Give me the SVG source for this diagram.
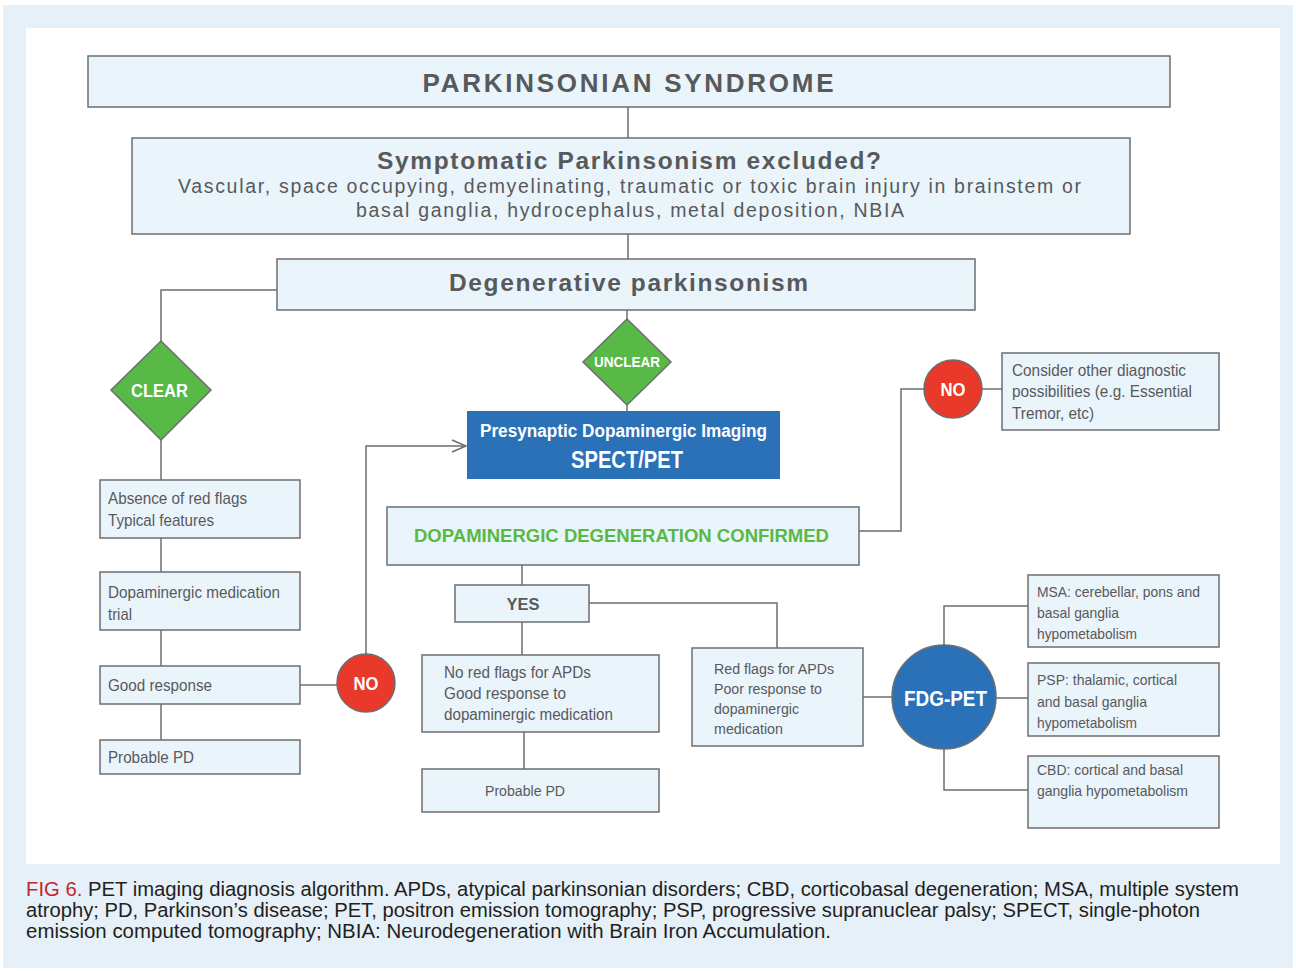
<svg xmlns="http://www.w3.org/2000/svg" width="1296" height="971" viewBox="0 0 1296 971">
<defs>
<style>
.box{fill:#eaf4fb;stroke:#6d6e71;stroke-width:1.5}
.ln{fill:none;stroke:#6d6e71;stroke-width:1.5}
.t{font-family:"Liberation Sans",Arial,sans-serif;fill:#58595b}
.hb{font-family:"Liberation Sans",Arial,sans-serif;fill:#58595b;font-weight:bold}
.wb{font-family:"Liberation Sans",Arial,sans-serif;fill:#ffffff;font-weight:bold}
.dia{fill:#58b947;stroke:#6d6e71;stroke-width:1.5}
.red{fill:#e8392a;stroke:#6d6e71;stroke-width:1.5}
.cap{font-family:"Liberation Sans",Arial,sans-serif;fill:#231f20;font-size:19.5px}
</style>
</defs>
<rect x="0" y="0" width="1296" height="971" fill="#ffffff"/>
<rect x="3" y="5" width="1290" height="963" fill="#e6f0f9"/>
<rect x="26" y="28" width="1254" height="836" fill="#ffffff"/>

<g id="connectors">
<line class="ln" x1="628" y1="107" x2="628" y2="138"/>
<line class="ln" x1="628" y1="234" x2="628" y2="259"/>
<polyline class="ln" points="277,290 161,290 161,341"/>
<line class="ln" x1="161" y1="440" x2="161" y2="480"/>
<line class="ln" x1="161" y1="538" x2="161" y2="572"/>
<line class="ln" x1="161" y1="630" x2="161" y2="666"/>
<line class="ln" x1="161" y1="704" x2="161" y2="740"/>
<line class="ln" x1="300" y1="685" x2="337" y2="685"/>
<polyline class="ln" points="366,654 366,446 465,446"/>
<polyline class="ln" points="452,440 466,446 452,452"/>
<line class="ln" x1="627" y1="310" x2="627" y2="319"/>
<line class="ln" x1="627" y1="405" x2="627" y2="411"/>
<polyline class="ln" points="859,531 901,531 901,389 924,389"/>
<line class="ln" x1="982" y1="389" x2="1002" y2="389"/>
<line class="ln" x1="522" y1="565" x2="522" y2="585"/>
<line class="ln" x1="522" y1="622" x2="522" y2="655"/>
<line class="ln" x1="524" y1="732" x2="524" y2="769"/>
<polyline class="ln" points="589,603 777,603 777,648"/>
<line class="ln" x1="863" y1="697" x2="892" y2="697"/>
<line class="ln" x1="996" y1="698" x2="1028" y2="698"/>
<polyline class="ln" points="944,645 944,606 1028,606"/>
<polyline class="ln" points="944,749 944,790 1028,790"/>
</g>

<g id="n-parkinsonian">
<rect class="box" x="88" y="56" width="1082" height="51"/>
<text class="hb" x="628" y="91.5" font-size="26" text-anchor="middle" textLength="411" lengthAdjust="spacing">PARKINSONIAN SYNDROME</text>
</g>

<g id="n-symptomatic">
<rect class="box" x="132" y="138" width="998" height="96"/>
<text class="hb" x="629" y="168.5" font-size="24.5" text-anchor="middle" textLength="504" lengthAdjust="spacing">Symptomatic Parkinsonism excluded?</text>
<text class="t" x="629.5" y="192.5" font-size="19.5" text-anchor="middle" textLength="903" lengthAdjust="spacing">Vascular, space occupying, demyelinating, traumatic or toxic brain injury in brainstem or</text>
<text class="t" x="630" y="216.5" font-size="19.5" text-anchor="middle" textLength="548" lengthAdjust="spacing">basal ganglia, hydrocephalus, metal deposition, NBIA</text>
</g>

<g id="n-degenerative">
<rect class="box" x="277" y="259" width="698" height="51"/>
<text class="hb" x="628.5" y="290.5" font-size="24.5" text-anchor="middle" textLength="359" lengthAdjust="spacing">Degenerative parkinsonism</text>
</g>

<g id="n-clear">
<polygon class="dia" points="161,341 211,390 161,440 111,390"/>
<text class="wb" x="159.5" y="397" font-size="18" text-anchor="middle" textLength="57" lengthAdjust="spacingAndGlyphs">CLEAR</text>
</g>

<g id="n-absence">
<rect class="box" x="100" y="480" width="200" height="58"/>
<text class="t" x="108" y="504" font-size="17" textLength="139" lengthAdjust="spacingAndGlyphs">Absence of red flags</text>
<text class="t" x="108" y="525.5" font-size="17" textLength="106" lengthAdjust="spacingAndGlyphs">Typical features</text>
</g>

<g id="n-trial">
<rect class="box" x="100" y="572" width="200" height="58"/>
<text class="t" x="108" y="598" font-size="17" textLength="172" lengthAdjust="spacingAndGlyphs">Dopaminergic medication</text>
<text class="t" x="108" y="619.5" font-size="17" textLength="24" lengthAdjust="spacingAndGlyphs">trial</text>
</g>

<g id="n-good">
<rect class="box" x="100" y="666" width="200" height="38"/>
<text class="t" x="108" y="690.5" font-size="17" textLength="104" lengthAdjust="spacingAndGlyphs">Good response</text>
</g>

<g id="n-probable-left">
<rect class="box" x="100" y="740" width="200" height="34"/>
<text class="t" x="108" y="763" font-size="17" textLength="86" lengthAdjust="spacingAndGlyphs">Probable PD</text>
</g>

<g id="n-no-left">
<circle class="red" cx="366" cy="683" r="29"/>
<text class="wb" x="366" y="689.5" font-size="18.5" text-anchor="middle" textLength="25" lengthAdjust="spacingAndGlyphs">NO</text>
</g>

<g id="n-unclear">
<polygon class="dia" points="627,319 671,362 627,405 583,362"/>
<text class="wb" x="627" y="366.5" font-size="14.5" text-anchor="middle" textLength="66" lengthAdjust="spacingAndGlyphs">UNCLEAR</text>
</g>

<g id="n-spect">
<rect x="467" y="411" width="313" height="68" fill="#2a71b8"/>
<text class="wb" x="623.5" y="437" font-size="17.5" text-anchor="middle" textLength="287" lengthAdjust="spacingAndGlyphs">Presynaptic Dopaminergic Imaging</text>
<text class="wb" x="627" y="468" font-size="23" text-anchor="middle" textLength="112" lengthAdjust="spacingAndGlyphs">SPECT/PET</text>
</g>

<g id="n-confirmed">
<rect class="box" x="387" y="507" width="472" height="58"/>
<text x="621.5" y="541.5" font-size="18.5" text-anchor="middle" font-weight="bold" fill="#58b947" font-family="'Liberation Sans',Arial,sans-serif" textLength="415" lengthAdjust="spacingAndGlyphs">DOPAMINERGIC DEGENERATION CONFIRMED</text>
</g>

<g id="n-no-right">
<circle class="red" cx="953" cy="389" r="29"/>
<text class="wb" x="953" y="395.5" font-size="18.5" text-anchor="middle" textLength="25" lengthAdjust="spacingAndGlyphs">NO</text>
</g>

<g id="n-consider">
<rect class="box" x="1002" y="353" width="217" height="77"/>
<text class="t" x="1012" y="376" font-size="16.5" textLength="174" lengthAdjust="spacingAndGlyphs">Consider other diagnostic</text>
<text class="t" x="1012" y="397" font-size="16.5" textLength="180" lengthAdjust="spacingAndGlyphs">possibilities (e.g. Essential</text>
<text class="t" x="1012" y="419" font-size="16.5" textLength="82" lengthAdjust="spacingAndGlyphs">Tremor, etc)</text>
</g>

<g id="n-yes">
<rect class="box" x="455" y="585" width="134" height="37"/>
<text class="hb" x="523" y="610" font-size="17" text-anchor="middle" textLength="33" lengthAdjust="spacingAndGlyphs">YES</text>
</g>

<g id="n-nored">
<rect class="box" x="422" y="655" width="237" height="77"/>
<text class="t" x="444" y="678" font-size="16" textLength="147" lengthAdjust="spacingAndGlyphs">No red flags for APDs</text>
<text class="t" x="444" y="699" font-size="16" textLength="122" lengthAdjust="spacingAndGlyphs">Good response to</text>
<text class="t" x="444" y="720" font-size="16" textLength="169" lengthAdjust="spacingAndGlyphs">dopaminergic medication</text>
</g>

<g id="n-probable-mid">
<rect class="box" x="422" y="769" width="237" height="43"/>
<text class="t" x="525" y="795.5" font-size="15.5" text-anchor="middle" textLength="80" lengthAdjust="spacingAndGlyphs">Probable PD</text>
</g>

<g id="n-redflags">
<rect class="box" x="692" y="648" width="171" height="98"/>
<text class="t" x="714" y="673.5" font-size="15.5" textLength="120" lengthAdjust="spacingAndGlyphs">Red flags for APDs</text>
<text class="t" x="714" y="693.5" font-size="15.5" textLength="108" lengthAdjust="spacingAndGlyphs">Poor response to</text>
<text class="t" x="714" y="713.5" font-size="15.5" textLength="85" lengthAdjust="spacingAndGlyphs">dopaminergic</text>
<text class="t" x="714" y="733.5" font-size="15.5" textLength="69" lengthAdjust="spacingAndGlyphs">medication</text>
</g>

<g id="n-fdg">
<circle cx="944" cy="697" r="52" fill="#2a71b8" stroke="#6d6e71" stroke-width="1.5"/>
<text class="wb" x="945.5" y="705.5" font-size="22" text-anchor="middle" textLength="83" lengthAdjust="spacingAndGlyphs">FDG-PET</text>
</g>

<g id="n-msa">
<rect class="box" x="1028" y="575" width="191" height="72"/>
<text class="t" x="1037" y="597" font-size="15" textLength="163" lengthAdjust="spacingAndGlyphs">MSA: cerebellar, pons and</text>
<text class="t" x="1037" y="618" font-size="15" textLength="82" lengthAdjust="spacingAndGlyphs">basal ganglia</text>
<text class="t" x="1037" y="638.5" font-size="15" textLength="100" lengthAdjust="spacingAndGlyphs">hypometabolism</text>
</g>

<g id="n-psp">
<rect class="box" x="1028" y="663" width="191" height="73"/>
<text class="t" x="1037" y="685" font-size="15" textLength="140" lengthAdjust="spacingAndGlyphs">PSP: thalamic, cortical</text>
<text class="t" x="1037" y="707" font-size="15" textLength="110" lengthAdjust="spacingAndGlyphs">and basal ganglia</text>
<text class="t" x="1037" y="727.5" font-size="15" textLength="100" lengthAdjust="spacingAndGlyphs">hypometabolism</text>
</g>

<g id="n-cbd">
<rect class="box" x="1028" y="756" width="191" height="72"/>
<text class="t" x="1037" y="775" font-size="15" textLength="146" lengthAdjust="spacingAndGlyphs">CBD: cortical and basal</text>
<text class="t" x="1037" y="796" font-size="15" textLength="151" lengthAdjust="spacingAndGlyphs">ganglia hypometabolism</text>
</g>

<g id="caption">
<text class="cap" x="26" y="896" textLength="1213" lengthAdjust="spacingAndGlyphs"><tspan fill="#c1272d">FIG 6.</tspan> PET imaging diagnosis algorithm. APDs, atypical parkinsonian disorders; CBD, corticobasal degeneration; MSA, multiple system</text>
<text class="cap" x="26" y="917" textLength="1174" lengthAdjust="spacingAndGlyphs">atrophy; PD, Parkinson’s disease; PET, positron emission tomography; PSP, progressive supranuclear palsy; SPECT, single-photon</text>
<text class="cap" x="26" y="938" textLength="805" lengthAdjust="spacingAndGlyphs">emission computed tomography; NBIA: Neurodegeneration with Brain Iron Accumulation.</text>
</g>
</svg>
